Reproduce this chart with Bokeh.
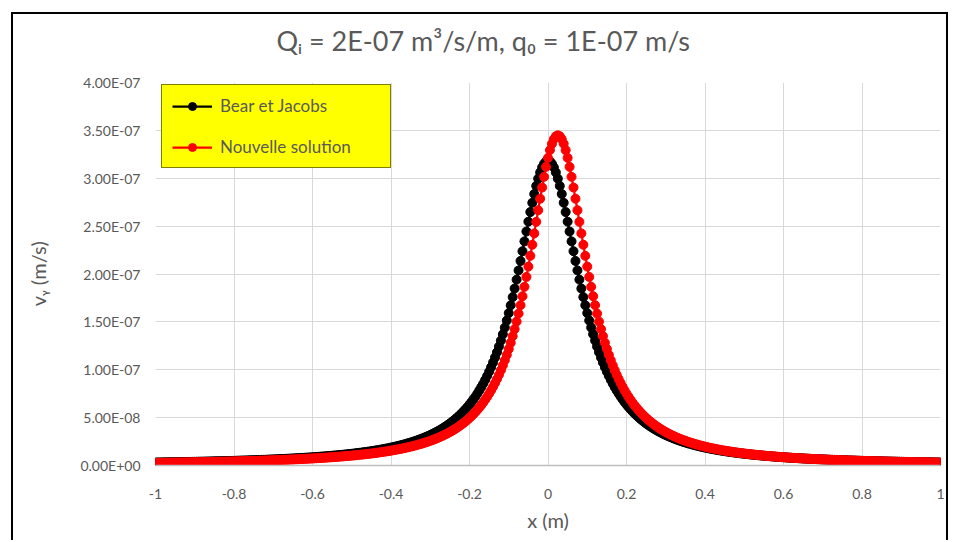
import math
from bokeh.plotting import figure
from bokeh.models import (ColumnDataSource, FixedTicker, CustomJSTickFormatter,
                          Legend, LegendItem, Range1d, Title)
from bokeh.embed import file_html
from bokeh.resources import INLINE

# ---------------- data ----------------
title_text = "Q\u1d62 = 2E-07 m\u00b3/s/m, q\u2080 = 1E-07 m/s"
x_label = "x (m)"
y_label = "v\u1d67 (m/s)"
series_names = ["Bear et Jacobs", "Nouvelle solution"]

x_start = -1.0
x_step = 0.005
n_points = 401
x_values = [round(x_start + i * x_step, 3) for i in range(n_points)]

x_ticks = [-1, -0.8, -0.6, -0.4, -0.2, 0, 0.2, 0.4, 0.6, 0.8, 1]
y_ticks = [0, 5e-8, 1e-7, 1.5e-7, 2e-7, 2.5e-7, 3e-7, 3.5e-7, 4e-7]

# v_y values, in units of 1E-09 m/s
bear_jacobs_nano = [
    3.15, 3.18, 3.21, 3.25, 3.28, 3.31, 3.35, 3.38, 3.42, 3.45,
    3.49, 3.52, 3.56, 3.60, 3.64, 3.68, 3.72, 3.76, 3.80, 3.84,
    3.88, 3.92, 3.97, 4.01, 4.06, 4.10, 4.15, 4.20, 4.25, 4.30,
    4.35, 4.40, 4.45, 4.50, 4.55, 4.61, 4.66, 4.72, 4.78, 4.84,
    4.90, 4.96, 5.02, 5.08, 5.15, 5.21, 5.28, 5.35, 5.42, 5.49,
    5.56, 5.63, 5.71, 5.79, 5.86, 5.94, 6.02, 6.11, 6.19, 6.28,
    6.37, 6.46, 6.55, 6.64, 6.74, 6.84, 6.94, 7.04, 7.14, 7.25,
    7.36, 7.47, 7.59, 7.70, 7.82, 7.95, 8.07, 8.20, 8.33, 8.47,
    8.60, 8.74, 8.89, 9.04, 9.19, 9.34, 9.50, 9.67, 9.84, 10.01,
    10.19, 10.37, 10.55, 10.75, 10.94, 11.14, 11.35, 11.57, 11.78, 12.01,
    12.24, 12.48, 12.73, 12.98, 13.24, 13.51, 13.79, 14.07, 14.36, 14.67,
    14.98, 15.30, 15.63, 15.98, 16.33, 16.70, 17.08, 17.47, 17.87, 18.29,
    18.72, 19.17, 19.64, 20.12, 20.62, 21.13, 21.67, 22.22, 22.80, 23.40,
    24.02, 24.67, 25.34, 26.04, 26.77, 27.53, 28.32, 29.14, 30.00, 30.90,
    31.83, 32.81, 33.83, 34.89, 36.01, 37.18, 38.40, 39.68, 41.02, 42.43,
    43.90, 45.46, 47.09, 48.80, 50.61, 52.50, 54.51, 56.61, 58.84, 61.18,
    63.66, 66.28, 69.05, 71.97, 75.07, 78.35, 81.83, 85.51, 89.41, 93.55,
    97.94, 102.60, 107.54, 112.78, 118.33, 124.22, 130.45, 137.05, 144.03, 151.40,
    159.16, 167.31, 175.86, 184.80, 194.09, 203.72, 213.63, 223.77, 234.05, 244.38,
    254.65, 264.71, 274.41, 283.57, 292.03, 299.59, 306.07, 311.31, 315.16, 317.52,
    318.31,
    317.52, 315.16, 311.31, 306.07, 299.59, 292.03, 283.57, 274.41, 264.71,
    254.65, 244.38, 234.05, 223.77, 213.63, 203.72, 194.09, 184.80, 175.86, 167.31,
    159.16, 151.40, 144.03, 137.05, 130.45, 124.22, 118.33, 112.78, 107.54, 102.60,
    97.94, 93.55, 89.41, 85.51, 81.83, 78.35, 75.07, 71.97, 69.05, 66.28,
    63.66, 61.18, 58.84, 56.61, 54.51, 52.50, 50.61, 48.80, 47.09, 45.46,
    43.90, 42.43, 41.02, 39.68, 38.40, 37.18, 36.01, 34.89, 33.83, 32.81,
    31.83, 30.90, 30.00, 29.14, 28.32, 27.53, 26.77, 26.04, 25.34, 24.67,
    24.02, 23.40, 22.80, 22.22, 21.67, 21.13, 20.62, 20.12, 19.64, 19.17,
    18.72, 18.29, 17.87, 17.47, 17.08, 16.70, 16.33, 15.98, 15.63, 15.30,
    14.98, 14.67, 14.36, 14.07, 13.79, 13.51, 13.24, 12.98, 12.73, 12.48,
    12.24, 12.01, 11.78, 11.57, 11.35, 11.14, 10.94, 10.75, 10.55, 10.37,
    10.19, 10.01, 9.84, 9.67, 9.50, 9.34, 9.19, 9.04, 8.89, 8.74,
    8.60, 8.47, 8.33, 8.20, 8.07, 7.95, 7.82, 7.70, 7.59, 7.47,
    7.36, 7.25, 7.14, 7.04, 6.94, 6.84, 6.74, 6.64, 6.55, 6.46,
    6.37, 6.28, 6.19, 6.11, 6.02, 5.94, 5.86, 5.79, 5.71, 5.63,
    5.56, 5.49, 5.42, 5.35, 5.28, 5.21, 5.15, 5.08, 5.02, 4.96,
    4.90, 4.84, 4.78, 4.72, 4.66, 4.61, 4.55, 4.50, 4.45, 4.40,
    4.35, 4.30, 4.25, 4.20, 4.15, 4.10, 4.06, 4.01, 3.97, 3.92,
    3.88, 3.84, 3.80, 3.76, 3.72, 3.68, 3.64, 3.60, 3.56, 3.52,
    3.49, 3.45, 3.42, 3.38, 3.35, 3.31, 3.28, 3.25, 3.21, 3.18,
    3.15,
]

nouvelle_nano = [
    2.77, 2.80, 2.83, 2.86, 2.88, 2.91, 2.94, 2.97, 3.00, 3.03,
    3.06, 3.09, 3.13, 3.16, 3.19, 3.23, 3.26, 3.29, 3.33, 3.36,
    3.40, 3.44, 3.47, 3.51, 3.55, 3.59, 3.63, 3.67, 3.71, 3.75,
    3.80, 3.84, 3.88, 3.93, 3.97, 4.02, 4.07, 4.11, 4.16, 4.21,
    4.26, 4.31, 4.37, 4.42, 4.47, 4.53, 4.59, 4.64, 4.70, 4.76,
    4.82, 4.89, 4.95, 5.01, 5.08, 5.15, 5.21, 5.28, 5.35, 5.43,
    5.50, 5.58, 5.65, 5.73, 5.81, 5.89, 5.98, 6.06, 6.15, 6.24,
    6.33, 6.42, 6.52, 6.62, 6.71, 6.82, 6.92, 7.03, 7.14, 7.25,
    7.36, 7.48, 7.60, 7.72, 7.84, 7.97, 8.10, 8.24, 8.38, 8.52,
    8.66, 8.81, 8.96, 9.12, 9.28, 9.45, 9.62, 9.79, 9.97, 10.15,
    10.34, 10.53, 10.73, 10.94, 11.15, 11.36, 11.59, 11.82, 12.05, 12.30,
    12.55, 12.81, 13.07, 13.35, 13.63, 13.92, 14.22, 14.54, 14.86, 15.19,
    15.53, 15.89, 16.25, 16.63, 17.03, 17.43, 17.86, 18.29, 18.74, 19.21,
    19.70, 20.20, 20.73, 21.27, 21.84, 22.42, 23.04, 23.67, 24.33, 25.02,
    25.74, 26.49, 27.27, 28.08, 28.93, 29.82, 30.75, 31.72, 32.74, 33.80,
    34.92, 36.08, 37.31, 38.60, 39.95, 41.37, 42.86, 44.43, 46.09, 47.83,
    49.67, 51.62, 53.67, 55.83, 58.13, 60.55, 63.12, 65.84, 68.73, 71.80,
    75.05, 78.51, 82.19, 86.11, 90.27, 94.71, 99.44, 104.48, 109.85, 115.58,
    121.68, 128.18, 135.11, 142.48, 150.32, 158.64, 167.45, 176.77, 186.60, 196.92,
    207.71, 218.93, 230.52, 242.41, 254.48, 266.61, 278.62, 290.32, 301.49, 311.89,
    321.27, 329.37, 335.96, 340.84, 343.83,
    344.84,
    343.83, 340.84, 335.96, 329.37, 321.27, 311.89, 301.49, 290.32, 278.62,
    266.61, 254.48, 242.41, 230.52, 218.93, 207.71, 196.92, 186.60, 176.77, 167.45,
    158.64, 150.32, 142.48, 135.11, 128.18, 121.68, 115.58, 109.85, 104.48, 99.44,
    94.71, 90.27, 86.11, 82.19, 78.51, 75.05, 71.80, 68.73, 65.84, 63.12,
    60.55, 58.13, 55.83, 53.67, 51.62, 49.67, 47.83, 46.09, 44.43, 42.86,
    41.37, 39.95, 38.60, 37.31, 36.08, 34.92, 33.80, 32.74, 31.72, 30.75,
    29.82, 28.93, 28.08, 27.27, 26.49, 25.74, 25.02, 24.33, 23.67, 23.04,
    22.42, 21.84, 21.27, 20.73, 20.20, 19.70, 19.21, 18.74, 18.29, 17.86,
    17.43, 17.03, 16.63, 16.25, 15.89, 15.53, 15.19, 14.86, 14.54, 14.22,
    13.92, 13.63, 13.35, 13.07, 12.81, 12.55, 12.30, 12.05, 11.82, 11.59,
    11.36, 11.15, 10.94, 10.73, 10.53, 10.34, 10.15, 9.97, 9.79, 9.62,
    9.45, 9.28, 9.12, 8.96, 8.81, 8.66, 8.52, 8.38, 8.24, 8.10,
    7.97, 7.84, 7.72, 7.60, 7.48, 7.36, 7.25, 7.14, 7.03, 6.92,
    6.82, 6.71, 6.62, 6.52, 6.42, 6.33, 6.24, 6.15, 6.06, 5.98,
    5.89, 5.81, 5.73, 5.65, 5.58, 5.50, 5.43, 5.35, 5.28, 5.21,
    5.15, 5.08, 5.01, 4.95, 4.89, 4.82, 4.76, 4.70, 4.64, 4.59,
    4.53, 4.47, 4.42, 4.37, 4.31, 4.26, 4.21, 4.16, 4.11, 4.07,
    4.02, 3.97, 3.93, 3.88, 3.84, 3.80, 3.75, 3.71, 3.67, 3.63,
    3.59, 3.55, 3.51, 3.47, 3.44, 3.40, 3.36, 3.33, 3.29, 3.26,
    3.23, 3.19, 3.16, 3.13, 3.09, 3.06,
]

assert len(bear_jacobs_nano) == n_points, len(bear_jacobs_nano)
assert len(nouvelle_nano) == n_points, len(nouvelle_nano)

# ---------------- styling ----------------
FONT = "Lato"
GRAY_TEXT = "#595959"
GRID = "#d9d9d9"

src_b = ColumnDataSource(dict(x=x_values, y=[v * 1e-9 for v in bear_jacobs_nano]))
src_n = ColumnDataSource(dict(x=x_values, y=[v * 1e-9 for v in nouvelle_nano]))

p = figure(width=937, height=528, output_backend="svg", toolbar_location=None,
           x_range=Range1d(-1, 1), y_range=Range1d(0, 4e-7),
           min_border_left=142, min_border_right=10,
           min_border_top=68, min_border_bottom=77)
p.styles = {"margin-left": "11px", "margin-top": "12px",
            "border-top": "2px solid black", "border-left": "2px solid black",
            "border-right": "2px solid black"}
p.outline_line_color = None
p.background_fill_color = "white"
p.border_fill_color = "white"

# chart title (a thin blank title between it and the frame keeps it higher up)
p.add_layout(Title(text=" ", text_font_size="2px", standoff=20), "above")
p.title.text = title_text
p.title.align = "left"
p.title.offset = 121
p.title.standoff = 4
p.title.text_font = FONT
p.title.text_font_size = "27px"
p.title.text_font_style = "normal"
p.title.text_color = GRAY_TEXT

# axes
p.xaxis.ticker = FixedTicker(ticks=x_ticks)
p.yaxis.ticker = FixedTicker(ticks=y_ticks)
p.xgrid.ticker = FixedTicker(ticks=x_ticks)
p.ygrid.ticker = FixedTicker(ticks=y_ticks)
p.xaxis.formatter = CustomJSTickFormatter(code="return String(Math.round(tick*10)/10);")
p.yaxis.formatter = CustomJSTickFormatter(code="""
if (Math.abs(tick) < 1e-20) { return '0.00E+00'; }
const s = tick.toExponential(2);
const parts = s.split('e');
const e = parseInt(parts[1]);
const sign = e < 0 ? '-' : '+';
const d = Math.abs(e);
return parts[0] + 'E' + sign + (d < 10 ? '0' + d : String(d));
""")
for ax in (p.xaxis[0], p.yaxis[0]):
    ax.major_tick_line_color = None
    ax.minor_tick_line_color = None
    ax.major_label_text_font = FONT
    ax.major_label_text_font_size = "14px"
    ax.major_label_text_color = GRAY_TEXT
    ax.axis_label_text_font = FONT
    ax.axis_label_text_font_size = "20px"
    ax.axis_label_text_font_style = "normal"
    ax.axis_label_text_color = GRAY_TEXT
p.xaxis.axis_line_color = "#bfbfbf"
p.xaxis.axis_line_width = 1.5
p.yaxis.axis_line_color = None
p.xaxis.major_label_standoff = 17
p.yaxis.major_label_standoff = 9
p.xaxis.axis_label = x_label
p.yaxis.axis_label = y_label
p.xaxis.axis_label_standoff = 6
p.yaxis.axis_label_standoff = 27
p.xgrid.grid_line_color = GRID
p.ygrid.grid_line_color = GRID
p.xgrid.grid_line_width = 1
p.ygrid.grid_line_width = 1

# series
colors = ["black", "#ff0000"]
items = []
for name, src, col in zip(series_names, [src_b, src_n], colors):
    ln = p.line("x", "y", source=src, line_color=col, line_width=2.25)
    sc = p.scatter("x", "y", source=src, marker="circle", size=9,
                   fill_color=col, line_color=col, line_width=1)
    items.append(LegendItem(label=name, renderers=[ln, sc]))

legend = Legend(items=items, location=(6, 297),
                background_fill_color="#ffff00", background_fill_alpha=1.0,
                border_line_color="black", border_line_width=1.5,
                label_text_color=GRAY_TEXT, label_text_font=FONT,
                label_text_font_size="17px",
                glyph_width=40, glyph_height=20, spacing=20, padding=10,
                margin=0, label_standoff=8, label_width=160)
p.add_layout(legend)

open("out.html", "w").write(file_html(p, INLINE))
